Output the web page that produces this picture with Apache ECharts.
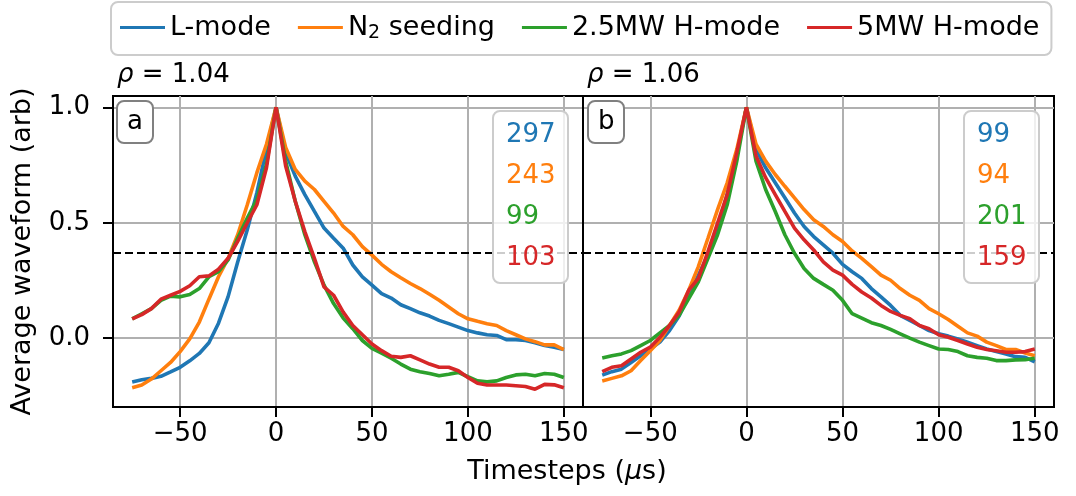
<!DOCTYPE html>
<html>
<head>
<meta charset="utf-8">
<script src="https://cdn.jsdelivr.net/npm/echarts@6/dist/echarts.min.js"></script>
<style>
  html, body { margin: 0; padding: 0; background: #fff; }
  #chart { width: 1076px; height: 496px; }
</style>
</head>
<body>
<div id="chart"></div>
<script>
// time lags (us)
const timesteps = [-75, -70, -65, -60, -55, -50, -45, -40, -35, -30, -25, -20, -15, -10, -5, 0,
  5, 10, 15, 20, 25, 30, 35, 40, 45, 50, 55, 60, 65, 70, 75, 80, 85, 90, 95, 100,
  105, 110, 115, 120, 125, 130, 135, 140, 145, 150];

const seriesNames = ['L-mode', 'N₂ seeding', '2.5MW H-mode', '5MW H-mode'];

// panel a, rho = 1.04
const lmodeA = [-0.19, -0.18, -0.174, -0.165, -0.146, -0.126, -0.098, -0.066, -0.02, 0.065, 0.18, 0.33, 0.47, 0.63, 0.82, 1.0,
  0.804, 0.702, 0.622, 0.549, 0.477, 0.433, 0.39, 0.317, 0.266, 0.23, 0.193, 0.174, 0.145, 0.128, 0.11, 0.096, 0.077, 0.063, 0.048, 0.033,
  0.023, 0.015, 0.012, -0.006, -0.007, -0.01, -0.02, -0.032, -0.039, -0.049];
const seedA = [-0.215, -0.203, -0.177, -0.141, -0.105, -0.058, -0.003, 0.07, 0.169, 0.266, 0.346, 0.448, 0.578, 0.717, 0.84, 1.0,
  0.826, 0.731, 0.68, 0.644, 0.593, 0.542, 0.484, 0.448, 0.397, 0.36, 0.32, 0.288, 0.262, 0.237, 0.215, 0.19, 0.164, 0.135, 0.106, 0.084,
  0.073, 0.063, 0.055, 0.033, 0.015, -0.003, -0.015, -0.029, -0.029, -0.049];
const h25A = [0.084, 0.106, 0.128, 0.164, 0.182, 0.179, 0.189, 0.215, 0.266, 0.288, 0.339, 0.433, 0.52, 0.6, 0.753, 1.0,
  0.767, 0.593, 0.448, 0.331, 0.23, 0.15, 0.087, 0.041, -0.01, -0.044, -0.065, -0.087, -0.112, -0.134, -0.145, -0.153, -0.163, -0.156, -0.148, -0.167,
  -0.185, -0.189, -0.185, -0.17, -0.159, -0.156, -0.163, -0.153, -0.156, -0.17];
const h5A = [0.084, 0.102, 0.128, 0.169, 0.186, 0.203, 0.227, 0.266, 0.27, 0.299, 0.346, 0.419, 0.5, 0.578, 0.738, 1.0,
  0.746, 0.593, 0.462, 0.346, 0.222, 0.186, 0.113, 0.055, 0.015, -0.025, -0.054, -0.078, -0.083, -0.076, -0.094, -0.112, -0.126, -0.126, -0.141, -0.17,
  -0.195, -0.203, -0.203, -0.203, -0.206, -0.209, -0.221, -0.2, -0.202, -0.215];

// panel b, rho = 1.06
const lmodeB = [-0.16, -0.145, -0.134, -0.105, -0.076, -0.047, -0.017, 0.033, 0.096, 0.186, 0.273, 0.36, 0.477, 0.622, 0.797, 1.0,
  0.818, 0.738, 0.673, 0.608, 0.542, 0.484, 0.44, 0.404, 0.368, 0.32, 0.288, 0.259, 0.215, 0.179, 0.142, 0.099, 0.077, 0.055, 0.033, 0.019,
  0.009, -0.003, -0.017, -0.032, -0.047, -0.058, -0.068, -0.08, -0.083, -0.102];
const seedB = [-0.185, -0.174, -0.163, -0.141, -0.097, -0.054, -0.01, 0.055, 0.121, 0.208, 0.31, 0.433, 0.557, 0.673, 0.818, 1.0,
  0.84, 0.767, 0.709, 0.658, 0.608, 0.557, 0.513, 0.484, 0.448, 0.419, 0.378, 0.346, 0.31, 0.273, 0.251, 0.215, 0.186, 0.164, 0.128, 0.106,
  0.081, 0.052, 0.023, 0.009, -0.017, -0.032, -0.049, -0.049, -0.064, -0.076];
const h25B = [-0.086, -0.076, -0.068, -0.054, -0.032, -0.01, 0.023, 0.055, 0.099, 0.172, 0.244, 0.346, 0.448, 0.578, 0.767, 1.0,
  0.767, 0.644, 0.549, 0.448, 0.368, 0.302, 0.259, 0.233, 0.208, 0.164, 0.106, 0.087, 0.067, 0.055, 0.038, 0.019, 0.0, -0.017, -0.032, -0.047,
  -0.049, -0.058, -0.076, -0.083, -0.087, -0.097, -0.097, -0.094, -0.093, -0.087];
const h5B = [-0.145, -0.126, -0.119, -0.09, -0.061, -0.039, 0.004, 0.055, 0.113, 0.208, 0.259, 0.375, 0.499, 0.622, 0.804, 1.0,
  0.789, 0.695, 0.622, 0.549, 0.477, 0.426, 0.382, 0.331, 0.295, 0.273, 0.233, 0.2, 0.174, 0.142, 0.116, 0.099, 0.084, 0.055, 0.041, 0.015,
  0.004, -0.01, -0.025, -0.039, -0.049, -0.054, -0.061, -0.061, -0.058, -0.047];

// event counts shown in the boxes
const countsA = [297, 243, 99, 103];
const countsB = [99, 94, 201, 159];

const xTicks = [-50, 0, 50, 100, 150];
const yTicks = [0, 0.5, 1.0];
const efold = 1 / Math.E;

const colors = ['#1f77b4', '#ff7f0e', '#2ca02c', '#d62728'];
const FONT = 'DejaVu Sans';

function pairs(ys) {
  return timesteps.map((t, i) => [t, ys[i]]);
}

function makeXAxis(idx) {
  return {
    type: 'value', gridIndex: idx, min: -85, max: 160,
    axisLine: { show: true, onZero: false, lineStyle: { color: '#000', width: 2 } },
    axisTick: { show: true, customValues: xTicks, length: 10, lineStyle: { color: '#000', width: 2 } },
    axisLabel: {
      customValues: xTicks, margin: 14, fontSize: 26, fontFamily: FONT, color: '#000',
      formatter: v => String(v).replace('-', '\u2212')
    },
    splitLine: { show: true, lineStyle: { color: '#b0b0b0', width: 2 } }
  };
}

function makeYAxis(idx) {
  return {
    type: 'value', gridIndex: idx, min: -0.298, max: 1.049,
    axisLine: { show: true, onZero: false, lineStyle: { color: '#000', width: 2 } },
    axisTick: { show: idx === 0, customValues: yTicks, length: 10, lineStyle: { color: '#000', width: 2 } },
    axisLabel: {
      show: idx === 0, customValues: yTicks, margin: 23, fontSize: 26, fontFamily: FONT, color: '#000',
      formatter: v => v.toFixed(1)
    },
    splitLine: { show: true, lineStyle: { color: '#b0b0b0', width: 2 } },
    name: idx === 0 ? 'Average waveform (arb)' : '',
    nameLocation: 'middle', nameGap: 77,
    nameTextStyle: { fontSize: 27, fontFamily: FONT, color: '#000' }
  };
}

const panels = [[lmodeA, seedA, h25A, h5A], [lmodeB, seedB, h25B, h5B]];
const series = [];
panels.forEach((set, p) => {
  set.forEach((ys, k) => {
    const s = {
      name: seriesNames[k], type: 'line', xAxisIndex: p, yAxisIndex: p,
      data: pairs(ys), showSymbol: false, symbol: 'none',
      lineStyle: { color: colors[k], width: 3.6 }, itemStyle: { color: colors[k] },
      z: 3 + k
    };
    if (k === 0) {
      s.markLine = {
        silent: true, symbol: 'none', animation: false,
        label: { show: false },
        lineStyle: { color: '#000', type: [8, 4], width: 2 },
        data: [{ yAxis: efold }]
      };
    }
    series.push(s);
  });
});

function countBox(counts, left) {
  const txt = counts.map((c, i) => '{c' + i + '|' + c + '}').join('\n');
  const rich = {};
  colors.forEach((c, i) => {
    rich['c' + i] = { color: c, fontSize: 26, fontFamily: FONT, fontWeight: 'normal', lineHeight: 41, height: 41 };
  });
  return {
    text: txt, left: left, top: 111, padding: [4, 13, 4, 13],
    backgroundColor: 'rgba(255,255,255,0.8)', borderColor: '#cccccc', borderWidth: 2, borderRadius: 7,
    textStyle: { fontSize: 26, fontWeight: 'normal', lineHeight: 41, rich: rich }
  };
}

function letterBox(letter, left) {
  return {
    text: letter, left: left, top: 101, padding: [8, 10, 8, 10],
    backgroundColor: '#fff', borderColor: '#808080', borderWidth: 2, borderRadius: 7,
    textStyle: { fontSize: 26, fontFamily: FONT, fontWeight: 'normal', color: '#000' }
  };
}

function rhoTitle(val, left) {
  return {
    text: '{i|ρ}{t| = ' + val + '}', left: left, top: 62, padding: 0,
    textStyle: {
      fontWeight: 'normal', fontSize: 26,
      rich: {
        i: { fontSize: 26, fontFamily: FONT, fontStyle: 'italic', fontWeight: 'normal', color: '#000' },
        t: { fontSize: 26, fontFamily: FONT, fontWeight: 'normal', color: '#000' }
      }
    }
  };
}

const chart = echarts.init(document.getElementById('chart'), null, { renderer: 'canvas' });
chart.setOption({
  animation: false,
  backgroundColor: '#fff',
  textStyle: { fontFamily: FONT },
  grid: [
    { left: 113, right: 493, top: 96, bottom: 89, show: true, borderColor: '#000', borderWidth: 2 },
    { left: 583, right: 22, top: 96, bottom: 89, show: true, borderColor: '#000', borderWidth: 2 }
  ],
  xAxis: [makeXAxis(0), makeXAxis(1)],
  yAxis: [makeYAxis(0), makeYAxis(1)],
  legend: {
    data: seriesNames, left: 111, top: 2, padding: [12, 12, 12, 9],
    itemWidth: 45, itemHeight: 3, itemGap: 27, icon: 'rect',
    borderColor: '#cccccc', borderWidth: 2, borderRadius: 7,
    textStyle: {
      fontSize: 27, fontFamily: FONT, color: '#000',
      rich: {
        t: { fontSize: 27, fontFamily: FONT, color: '#000' },
        s: { fontSize: 19, fontFamily: FONT, color: '#000', padding: [12, 0, 0, 0] }
      }
    },
    formatter: name => name === 'N₂ seeding' ? '{t|N}{s|2}{t| seeding}' : name
  },
  title: [
    rhoTitle('1.04', 117), rhoTitle('1.06', 587),
    letterBox('a', 117), letterBox('b', 588),
    countBox(countsA, 493), countBox(countsB, 964)
  ],
  graphic: [{
    type: 'text', x: 567, y: 472,
    style: {
      text: 'Timesteps ({i|μ}s)', align: 'center', verticalAlign: 'middle',
      fontSize: 27, fontFamily: FONT, fill: '#000',
      rich: { i: { fontStyle: 'italic', fontSize: 27, fontFamily: FONT } }
    }
  }],
  series: series
});
</script>
</body>
</html>
